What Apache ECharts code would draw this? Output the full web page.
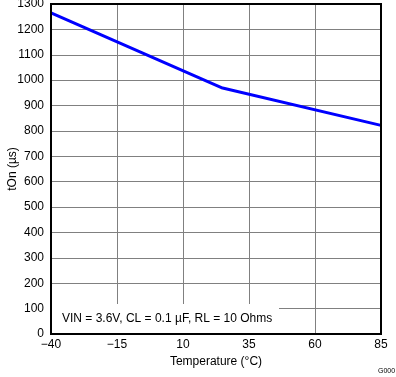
<!DOCTYPE html>
<html>
<head>
<meta charset="utf-8">
<script src="https://cdn.jsdelivr.net/npm/echarts@6/dist/echarts.min.js"></script>
<style>
  html, body { margin: 0; padding: 0; background: #fff; }
  #chart { width: 396px; height: 377px; }
</style>
</head>
<body>
<div id="chart"></div>
<script>
// temperature (°C) vs turn-on time (µs)
const temps = [-40, 25, 85];
const tOn = [1265, 969, 822];
const xTicks = [-40, -15, 10, 35, 60, 85];
const yTicks = [0, 100, 200, 300, 400, 500, 600, 700, 800, 900, 1000, 1100, 1200, 1300];

const chart = echarts.init(document.getElementById('chart'));
const font = 'Liberation Sans, Arial, sans-serif';

const option = {
  animation: false,
  grid: { left: 51, right: 15, top: 4, bottom: 43, show: false, containLabel: false, outerBoundsMode: 'none' },
  xAxis: {
    type: 'value',
    min: xTicks[0],
    max: xTicks[xTicks.length - 1],
    interval: 25,
    name: 'Temperature (°C)',
    nameLocation: 'middle',
    nameGap: 22,
    nameMoveOverlap: false,
    nameTextStyle: { color: '#000', fontSize: 12, fontFamily: font },
    axisLine: { show: false },
    axisTick: { show: false },
    axisLabel: {
      color: '#000', fontSize: 12, fontFamily: font, margin: 5,
      formatter: v => String(v).replace('-', '\u2212')
    },
    splitLine: { show: true, lineStyle: { color: '#808080', width: 1 } }
  },
  yAxis: {
    type: 'value',
    min: yTicks[0],
    max: yTicks[yTicks.length - 1],
    interval: 100,
    name: 'tOn (µs)',
    nameLocation: 'middle',
    nameGap: 32,
    nameMoveOverlap: false,
    nameTextStyle: { color: '#000', fontSize: 12, fontFamily: font },
    axisLine: { show: false },
    axisTick: { show: false },
    axisLabel: { color: '#000', fontSize: 12, fontFamily: font, margin: 7, formatter: v => String(v) },
    splitLine: { show: true, lineStyle: { color: '#808080', width: 1 } }
  },
  graphic: [
    // white note box over the grid lines
    { type: 'rect', z: 10, shape: { x: 52, y: 304, width: 227, height: 29 }, style: { fill: '#fff' } },
    { type: 'text', z: 11, x: 62, y: 313, style: { text: 'VIN = 3.6V, CL = 0.1 µF, RL = 10 Ohms', fill: '#000', font: '12px ' + font } },
    // plot frame
    { type: 'rect', z: 12, shape: { x: 51, y: 4, width: 330, height: 330 }, style: { fill: 'none', stroke: '#000', lineWidth: 2 } },
    { type: 'text', z: 11, x: 378, y: 368, style: { text: 'G000', fill: '#000', font: '7px ' + font } }
  ],
  series: [{
    type: 'line',
    data: temps.map((t, i) => [t, tOn[i]]),
    showSymbol: false,
    z: 5,
    lineStyle: { color: '#0000ff', width: 3 }
  }]
};
chart.setOption(option);
</script>
</body>
</html>
